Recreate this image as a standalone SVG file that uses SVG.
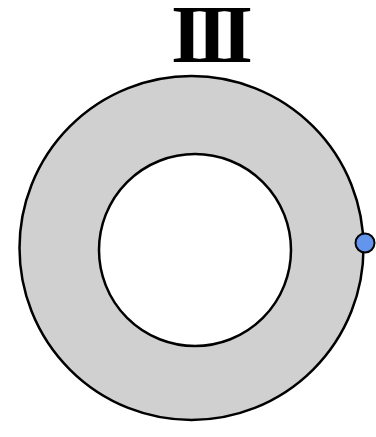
<svg xmlns="http://www.w3.org/2000/svg" width="376" height="437" viewBox="0 0 376 437">
<style>
.ring{fill:#d0d0d0;stroke:#000;stroke-width:2.5}
.hole{fill:#fff;stroke:#000;stroke-width:2.5}
.dot{fill:#6495ed;stroke:#000;stroke-width:2}
.lbl{font-family:"Liberation Serif","Times New Roman",serif;font-weight:bold;font-size:82px;fill:#000}
</style>
<rect width="376" height="437" fill="#fff"/>
<g id="annulus">
<circle class="ring" cx="191.5" cy="248" r="172"/>
<circle class="hole" cx="195" cy="250" r="96"/>
</g>
<g id="point">
<circle class="dot" cx="365" cy="243" r="9.5"/>
</g>
<g id="title">
<text class="lbl" x="212" y="62" text-anchor="middle" textLength="82" lengthAdjust="spacing">III</text>
</g>
</svg>
